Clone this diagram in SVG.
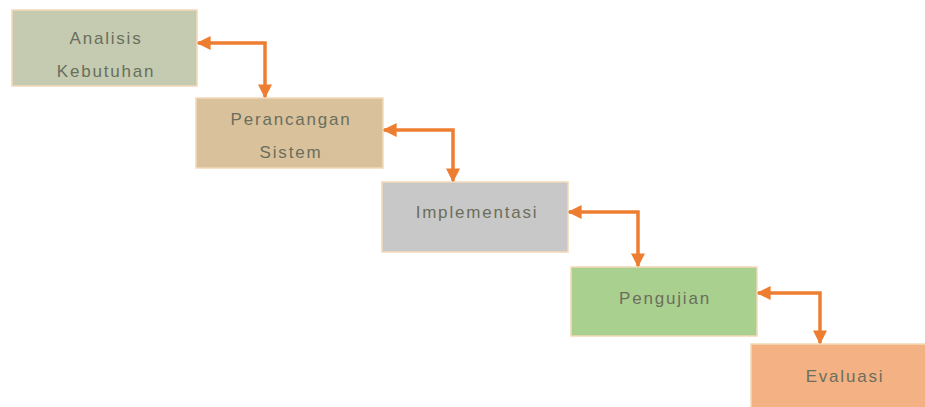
<svg xmlns="http://www.w3.org/2000/svg" width="925" height="407" viewBox="0 0 925 407">
<style>
.box{stroke:#f2d9b8;stroke-width:1.5}
.lbl{font-family:"Liberation Sans",Arial,sans-serif;font-size:17px;fill:#6b6e5c;letter-spacing:1.8px;text-anchor:middle}
.con{fill:none;stroke:#ed7d31;stroke-width:3.5}
</style>
<defs>
<marker id="ah" viewBox="0 0 10 10" refX="9" refY="5" markerWidth="4" markerHeight="4" markerUnits="strokeWidth" orient="auto-start-reverse">
<path d="M0,0 L10,5 L0,10 z" fill="#ed7d31"/>
</marker>
</defs>
<rect width="925" height="407" fill="#ffffff"/>
<g id="analisis">
<rect class="box" x="12" y="10" width="185" height="76" fill="#c4cbb0"/>
<text class="lbl" x="106" y="44">Analisis</text>
<text class="lbl" x="106" y="77">Kebutuhan</text>
</g>
<g id="perancangan">
<rect class="box" x="196" y="98" width="187" height="70" fill="#d9c19c"/>
<text class="lbl" x="291" y="125">Perancangan</text>
<text class="lbl" x="291" y="158">Sistem</text>
</g>
<g id="implementasi">
<rect class="box" x="382" y="182" width="186" height="70" fill="#c8c8c8"/>
<text class="lbl" x="477" y="218">Implementasi</text>
</g>
<g id="pengujian">
<rect class="box" x="571" y="267" width="186" height="69" fill="#a9d08e"/>
<text class="lbl" x="665" y="304">Pengujian</text>
</g>
<g id="evaluasi">
<rect class="box" x="751" y="344" width="180" height="70" fill="#f4b183"/>
<text class="lbl" x="845" y="382">Evaluasi</text>
</g>
<g id="connectors">
<path class="con" d="M198,43 H265 V97" marker-start="url(#ah)" marker-end="url(#ah)"/>
<path class="con" d="M384,130 H453 V181" marker-start="url(#ah)" marker-end="url(#ah)"/>
<path class="con" d="M569,212 H638 V266" marker-start="url(#ah)" marker-end="url(#ah)"/>
<path class="con" d="M758,293 H820 V343" marker-start="url(#ah)" marker-end="url(#ah)"/>
</g>
</svg>
